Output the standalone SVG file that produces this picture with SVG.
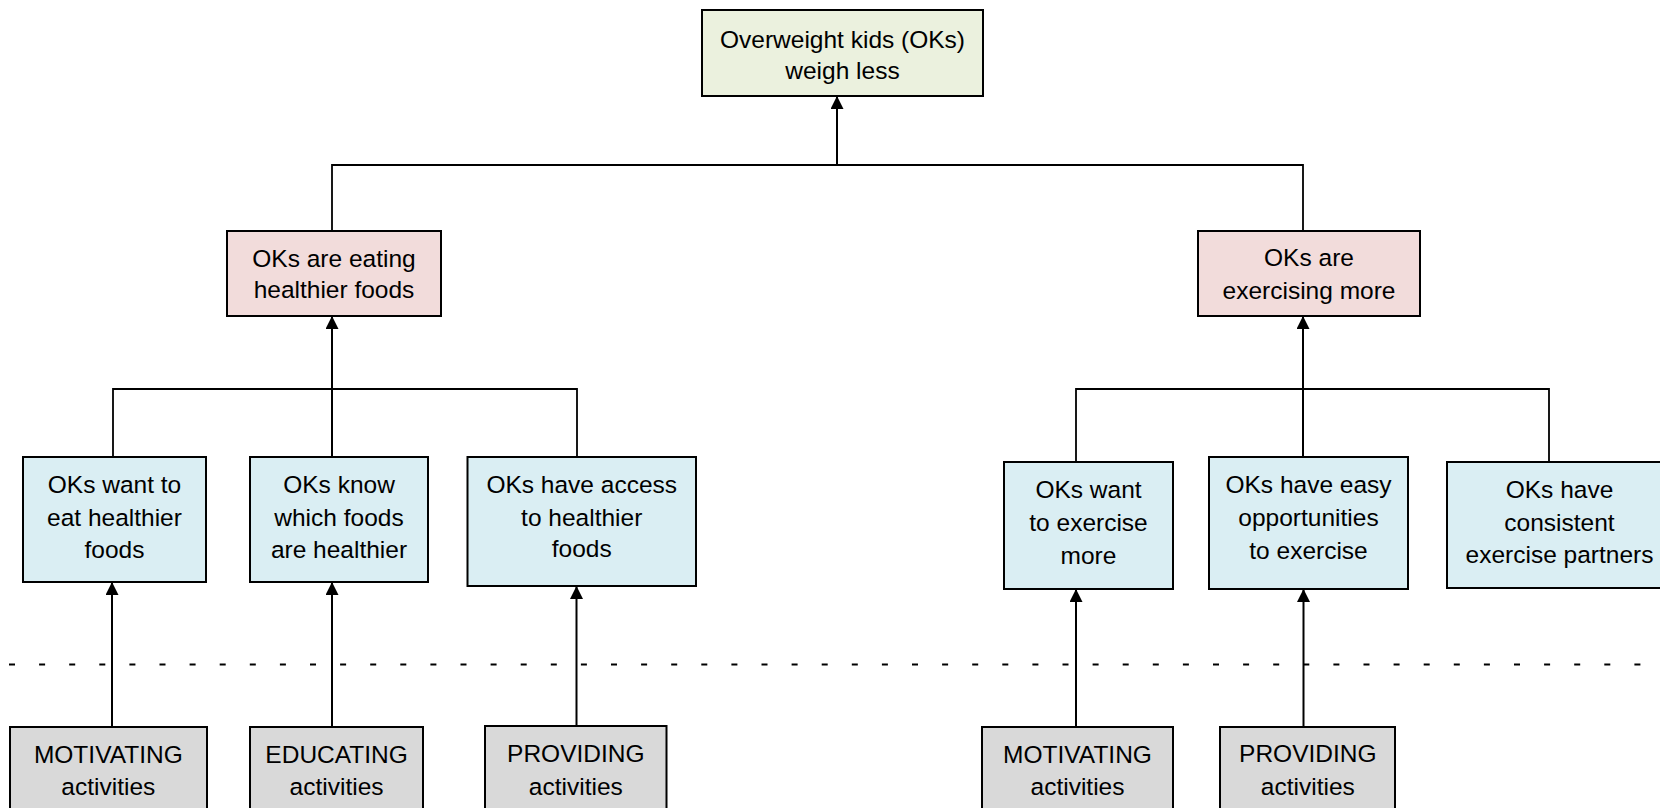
<svg xmlns="http://www.w3.org/2000/svg" width="1660" height="808" viewBox="0 0 1660 808">
<style>
  .box { stroke: #000; stroke-width: 2; }
  .goal { fill: #EBF1DE; }
  .mid { fill: #F2DCDB; }
  .pre { fill: #DAEEF3; }
  .act { fill: #D9D9D9; }
  text { font-family: "Liberation Sans", Arial, sans-serif; font-size: 24.5px; fill: #000; text-anchor: middle; }
  .ln { stroke: #000; stroke-width: 1.8; fill: none; }
  .arr { stroke: #000; stroke-width: 2; fill: none; marker-end: url(#ah); }
  .dash { stroke: #000; stroke-width: 2; stroke-dasharray: 6 24.1; fill: none; }
</style>
<defs>
  <marker id="ah" markerUnits="userSpaceOnUse" markerWidth="14" markerHeight="13" refX="13" refY="6.5" orient="auto">
    <path d="M0,0 L13,6.5 L0,13 z" fill="#000"/>
  </marker>
</defs>
<rect width="1660" height="808" fill="#fff"/>

<g id="connectors">
  <line class="dash" x1="9" y1="664.5" x2="1645" y2="664.5"/>
  <polyline class="ln" points="332,231 332,165 1303,165 1303,231"/>
  <line class="arr" x1="837" y1="165" x2="837" y2="96"/>
  <polyline class="ln" points="113,457 113,389 577,389 577,457"/>
  <line class="arr" x1="332" y1="457" x2="332" y2="316"/>
  <polyline class="ln" points="1076,462 1076,389 1549,389 1549,462"/>
  <line class="arr" x1="1303" y1="457" x2="1303" y2="316"/>
  <line class="arr" x1="112" y1="727" x2="112" y2="582"/>
  <line class="arr" x1="332" y1="727" x2="332" y2="582"/>
  <line class="arr" x1="576.5" y1="726" x2="576.5" y2="586"/>
  <line class="arr" x1="1076" y1="727" x2="1076" y2="589"/>
  <line class="arr" x1="1303.5" y1="727" x2="1303.5" y2="589"/>
</g>

<g id="goal">
  <rect class="box goal" x="702" y="10" width="281" height="86"/>
  <text x="842.5" y="48">Overweight kids (OKs)</text>
  <text x="842.5" y="79">weigh less</text>
</g>

<g id="eating">
  <rect class="box mid" x="227" y="231" width="214" height="85"/>
  <text x="334" y="267">OKs are eating</text>
  <text x="334" y="298">healthier foods</text>
</g>

<g id="exercising">
  <rect class="box mid" x="1198" y="231" width="222" height="85"/>
  <text x="1309" y="266">OKs are</text>
  <text x="1309" y="299">exercising more</text>
</g>

<g id="want-eat">
  <rect class="box pre" x="23" y="457" width="183" height="125"/>
  <text x="114.5" y="493">OKs want to</text>
  <text x="114.5" y="525.5">eat healthier</text>
  <text x="114.5" y="557.5">foods</text>
</g>

<g id="know-foods">
  <rect class="box pre" x="250" y="457" width="178" height="125"/>
  <text x="339" y="493">OKs know</text>
  <text x="339" y="525.5">which foods</text>
  <text x="339" y="557.5">are healthier</text>
</g>

<g id="access-foods">
  <rect class="box pre" x="467.5" y="457" width="228.5" height="129"/>
  <text x="581.7" y="492.5">OKs have access</text>
  <text x="581.7" y="525.5">to healthier</text>
  <text x="581.7" y="557">foods</text>
</g>

<g id="want-exercise">
  <rect class="box pre" x="1004" y="462" width="169" height="127"/>
  <text x="1088.5" y="497.7">OKs want</text>
  <text x="1088.5" y="531">to exercise</text>
  <text x="1088.5" y="564.3">more</text>
</g>

<g id="easy-opportunities">
  <rect class="box pre" x="1209" y="457" width="199" height="132"/>
  <text x="1308.5" y="493.3">OKs have easy</text>
  <text x="1308.5" y="525.5">opportunities</text>
  <text x="1308.5" y="559">to exercise</text>
</g>

<g id="partners">
  <rect class="box pre" x="1447" y="462" width="225" height="126"/>
  <text x="1559.5" y="498.3">OKs have</text>
  <text x="1559.5" y="530.7">consistent</text>
  <text x="1559.5" y="563.3">exercise partners</text>
</g>

<g id="motivating-eat">
  <rect class="box act" x="10" y="727" width="197" height="100"/>
  <text x="108.3" y="763">MOTIVATING</text>
  <text x="108.3" y="795">activities</text>
</g>

<g id="educating">
  <rect class="box act" x="250" y="727" width="173" height="100"/>
  <text x="336.6" y="763">EDUCATING</text>
  <text x="336.6" y="795">activities</text>
</g>

<g id="providing-food">
  <rect class="box act" x="485" y="726" width="181.5" height="100"/>
  <text x="575.8" y="761.7">PROVIDING</text>
  <text x="575.8" y="795">activities</text>
</g>

<g id="motivating-exercise">
  <rect class="box act" x="982" y="727" width="191" height="100"/>
  <text x="1077.5" y="763">MOTIVATING</text>
  <text x="1077.5" y="795">activities</text>
</g>

<g id="providing-exercise">
  <rect class="box act" x="1220" y="727" width="175" height="100"/>
  <text x="1307.8" y="761.7">PROVIDING</text>
  <text x="1307.8" y="795">activities</text>
</g>
</svg>
